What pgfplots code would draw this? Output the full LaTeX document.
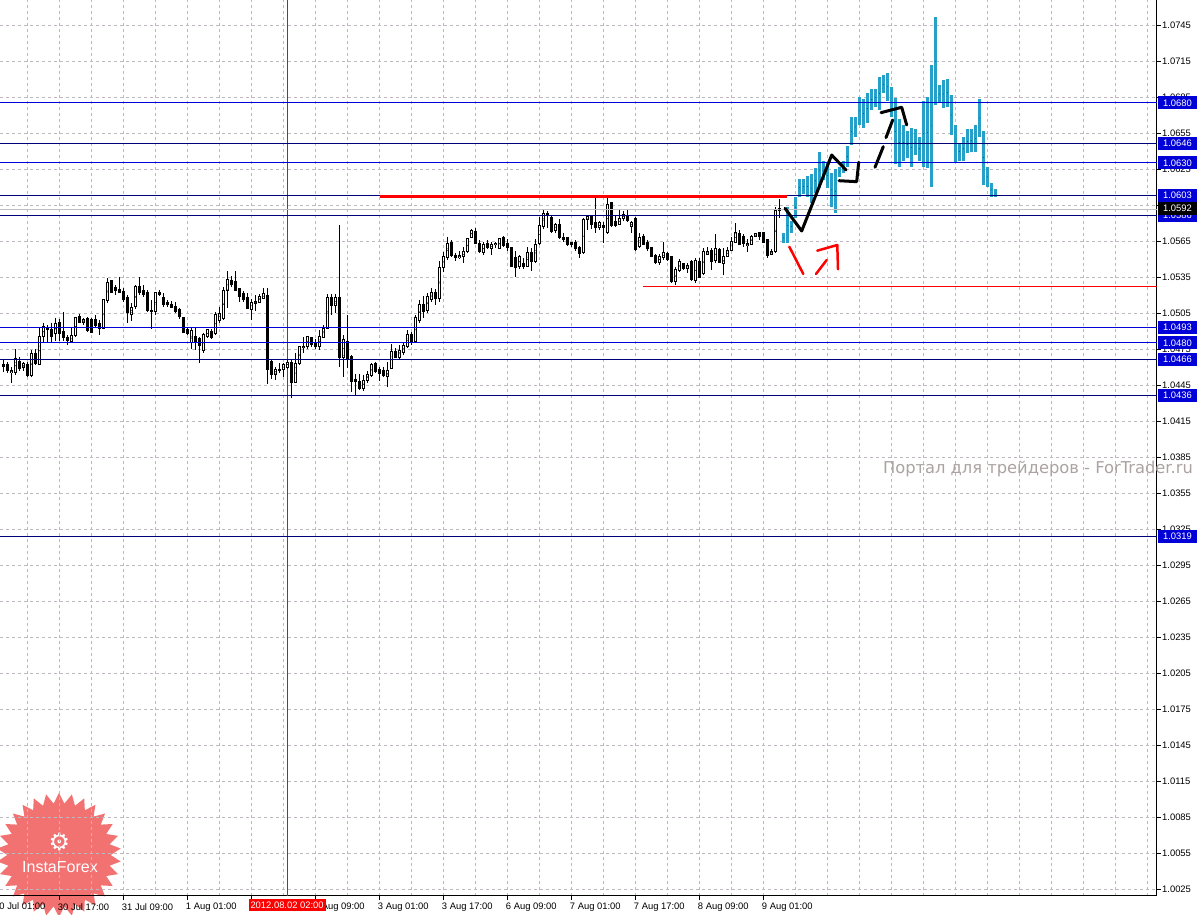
\documentclass[border=0pt]{standalone}
\usepackage{fontspec}
\setmainfont{Liberation Sans}
\newfontfamily\dejavu{DejaVu Sans}
\usepackage{pgfplots}
\pgfplotsset{compat=1.18}
\usepackage{pgfplotstable}
\usetikzlibrary{shapes.geometric}

\definecolor{lvblue}{RGB}{0,0,215}
\definecolor{lvnavy}{RGB}{0,0,120}
\definecolor{barblue}{RGB}{38,160,200}
\definecolor{gridc}{RGB}{192,184,192}
\definecolor{wmgray}{RGB}{172,162,162}
\definecolor{logored}{RGB}{240,90,90}

\pgfplotsset{hidemarks/.style={only marks, mark=*, mark options={scale=0.01, draw=none, fill=none}, forget plot}}

\pgfplotstableread{
x o h l c
0 1.0462 1.0466 1.0456 1.0460
1 1.0462 1.0464 1.0455 1.0457
2 1.0455 1.0460 1.0447 1.0457
3 1.0455 1.0475 1.0453 1.0467
4 1.0465 1.0468 1.0457 1.0459
5 1.0460 1.0464 1.0457 1.0463
6 1.0462 1.0464 1.0452 1.0453
7 1.0453 1.0474 1.0452 1.0471
8 1.0471 1.0475 1.0462 1.0463
9 1.0462 1.0493 1.0462 1.0485
10 1.0485 1.0497 1.0480 1.0494
11 1.0493 1.0495 1.0481 1.0491
12 1.0491 1.0497 1.0480 1.0485
13 1.0488 1.0501 1.0482 1.0496
14 1.0497 1.0500 1.0482 1.0488
15 1.0490 1.0506 1.0482 1.0485
16 1.0485 1.0487 1.0478 1.0482
17 1.0481 1.0493 1.0480 1.0486
18 1.0486 1.0502 1.0485 1.0501
19 1.0502 1.0504 1.0497 1.0497
20 1.0497 1.0501 1.0495 1.0500
21 1.0500 1.0502 1.0489 1.0490
22 1.0500 1.0501 1.0488 1.0489
23 1.0500 1.0503 1.0493 1.0495
24 1.0496 1.0499 1.0487 1.0492
25 1.0492 1.0517 1.0492 1.0516
26 1.0515 1.0534 1.0513 1.0530
27 1.0532 1.0532 1.0522 1.0522
28 1.0526 1.0528 1.0520 1.0524
29 1.0525 1.0535 1.0522 1.0522
30 1.0523 1.0526 1.0514 1.0516
31 1.0518 1.0520 1.0497 1.0505
32 1.0504 1.0513 1.0498 1.0510
33 1.0510 1.0528 1.0508 1.0527
34 1.0527 1.0535 1.0520 1.0522
35 1.0524 1.0528 1.0518 1.0520
36 1.0522 1.0524 1.0506 1.0507
37 1.0507 1.0516 1.0492 1.0506
38 1.0506 1.0522 1.0503 1.0522
39 1.0522 1.0524 1.0519 1.0520
40 1.0518 1.0522 1.0510 1.0512
41 1.0514 1.0516 1.0510 1.0512
42 1.0512 1.0515 1.0509 1.0510
43 1.0510 1.0514 1.0505 1.0506
44 1.0508 1.0509 1.0500 1.0502
45 1.0501 1.0502 1.0488 1.0489
46 1.0491 1.0493 1.0487 1.0488
47 1.0480 1.0493 1.0475 1.0490
48 1.0485 1.0493 1.0474 1.0480
49 1.0484 1.0485 1.0463 1.0478
50 1.0474 1.0488 1.0472 1.0487
51 1.0485 1.0492 1.0484 1.0491
52 1.0490 1.0492 1.0483 1.0485
53 1.0488 1.0506 1.0487 1.0504
54 1.0499 1.0510 1.0497 1.0505
55 1.0500 1.0527 1.0499 1.0524
56 1.0524 1.0540 1.0509 1.0533
57 1.0532 1.0536 1.0527 1.0529
58 1.0531 1.0540 1.0523 1.0524
59 1.0525 1.0526 1.0514 1.0519
60 1.0521 1.0523 1.0514 1.0516
61 1.0518 1.0522 1.0508 1.0509
62 1.0508 1.0517 1.0499 1.0514
63 1.0513 1.0520 1.0507 1.0515
64 1.0514 1.0521 1.0513 1.0519
65 1.0517 1.0526 1.0517 1.0521
66 1.0520 1.0526 1.0446 1.0458
67 1.0465 1.0467 1.0450 1.0454
68 1.0454 1.0460 1.0449 1.0458
69 1.0458 1.0463 1.0455 1.0457
70 1.0458 1.0463 1.0452 1.0462
71 1.0460 1.0466 1.0458 1.0464
72 1.0464 1.0466 1.0434 1.0447
73 1.0447 1.0472 1.0447 1.0463
74 1.0463 1.0477 1.0462 1.0477
75 1.0476 1.0485 1.0472 1.0477
76 1.0477 1.0486 1.0475 1.0485
77 1.0485 1.0485 1.0477 1.0479
78 1.0480 1.0483 1.0475 1.0477
79 1.0477 1.0491 1.0474 1.0485
80 1.0485 1.0495 1.0484 1.0492
81 1.0492 1.0521 1.0492 1.0518
82 1.0518 1.0521 1.0503 1.0511
83 1.0511 1.0521 1.0505 1.0518
84 1.0518 1.0578 1.0460 1.0468
85 1.0468 1.0487 1.0452 1.0483
86 1.0481 1.0503 1.0459 1.0467
87 1.0469 1.0470 1.0439 1.0448
88 1.0450 1.0454 1.0437 1.0448
89 1.0448 1.0454 1.0441 1.0442
90 1.0442 1.0453 1.0440 1.0449
91 1.0449 1.0457 1.0447 1.0454
92 1.0453 1.0463 1.0452 1.0462
93 1.0463 1.0464 1.0455 1.0456
94 1.0458 1.0460 1.0448 1.0455
95 1.0457 1.0460 1.0452 1.0453
96 1.0452 1.0464 1.0443 1.0457
97 1.0459 1.0479 1.0458 1.0473
98 1.0473 1.0476 1.0468 1.0468
99 1.0468 1.0478 1.0466 1.0474
100 1.0472 1.0481 1.0470 1.0478
101 1.0477 1.0491 1.0476 1.0487
102 1.0487 1.0489 1.0478 1.0481
103 1.0481 1.0503 1.0480 1.0501
104 1.0499 1.0516 1.0497 1.0512
105 1.0512 1.0519 1.0501 1.0506
106 1.0507 1.0522 1.0505 1.0519
107 1.0516 1.0526 1.0514 1.0522
108 1.0522 1.0525 1.0512 1.0517
109 1.0517 1.0548 1.0514 1.0543
110 1.0543 1.0556 1.0539 1.0552
111 1.0551 1.0568 1.0549 1.0563
112 1.0564 1.0566 1.0552 1.0553
113 1.0553 1.0555 1.0548 1.0551
114 1.0551 1.0557 1.0550 1.0553
115 1.0552 1.0560 1.0547 1.0556
116 1.0556 1.0567 1.0555 1.0567
117 1.0568 1.0575 1.0568 1.0574
118 1.0573 1.0576 1.0563 1.0563
119 1.0563 1.0566 1.0555 1.0556
120 1.0555 1.0564 1.0553 1.0562
121 1.0563 1.0566 1.0558 1.0560
122 1.0559 1.0564 1.0553 1.0562
123 1.0562 1.0564 1.0559 1.0563
124 1.0559 1.0567 1.0558 1.0567
125 1.0568 1.0569 1.0560 1.0561
126 1.0563 1.0567 1.0557 1.0560
127 1.0560 1.0560 1.0543 1.0544
128 1.0551 1.0557 1.0535 1.0543
129 1.0544 1.0553 1.0542 1.0552
130 1.0546 1.0551 1.0542 1.0544
131 1.0544 1.0560 1.0543 1.0555
132 1.0555 1.0559 1.0540 1.0548
133 1.0548 1.0567 1.0547 1.0562
134 1.0563 1.0585 1.0562 1.0578
135 1.0577 1.0592 1.0575 1.0588
136 1.0588 1.0590 1.0576 1.0586
137 1.0585 1.0587 1.0572 1.0573
138 1.0574 1.0580 1.0572 1.0579
139 1.0579 1.0583 1.0567 1.0568
140 1.0568 1.0572 1.0564 1.0566
141 1.0568 1.0568 1.0561 1.0562
142 1.0564 1.0564 1.0560 1.0562
143 1.0564 1.0566 1.0557 1.0559
144 1.0560 1.0561 1.0551 1.0555
145 1.0555 1.0584 1.0554 1.0583
146 1.0583 1.0586 1.0574 1.0585
147 1.0585 1.0587 1.0575 1.0579
148 1.0580 1.0601 1.0572 1.0576
149 1.0576 1.0582 1.0574 1.0580
150 1.0578 1.0581 1.0563 1.0576
151 1.0572 1.0602 1.0571 1.0595
152 1.0597 1.0597 1.0577 1.0578
153 1.0581 1.0587 1.0577 1.0578
154 1.0579 1.0591 1.0578 1.0584
155 1.0584 1.0590 1.0582 1.0587
156 1.0586 1.0591 1.0581 1.0582
157 1.0577 1.0582 1.0572 1.0580
158 1.0584 1.0585 1.0557 1.0558
159 1.0560 1.0572 1.0559 1.0568
160 1.0569 1.0571 1.0562 1.0562
161 1.0564 1.0566 1.0557 1.0559
162 1.0560 1.0560 1.0552 1.0552
163 1.0553 1.0554 1.0546 1.0547
164 1.0547 1.0554 1.0545 1.0552
165 1.0551 1.0564 1.0549 1.0555
166 1.0555 1.0556 1.0548 1.0550
167 1.0552 1.0552 1.0530 1.0531
168 1.0531 1.0543 1.0528 1.0541
169 1.0540 1.0550 1.0539 1.0548
170 1.0546 1.0547 1.0541 1.0542
171 1.0542 1.0547 1.0538 1.0545
172 1.0548 1.0549 1.0532 1.0533
173 1.0532 1.0551 1.0530 1.0549
174 1.0548 1.0551 1.0534 1.0535
175 1.0538 1.0559 1.0537 1.0556
176 1.0554 1.0560 1.0553 1.0556
177 1.0557 1.0559 1.0541 1.0548
178 1.0549 1.0571 1.0547 1.0559
179 1.0558 1.0559 1.0547 1.0547
180 1.0546 1.0559 1.0537 1.0552
181 1.0552 1.0560 1.0552 1.0557
182 1.0557 1.0568 1.0557 1.0565
183 1.0564 1.0580 1.0563 1.0572
184 1.0571 1.0574 1.0562 1.0562
185 1.0569 1.0571 1.0560 1.0563
186 1.0561 1.0567 1.0556 1.0563
187 1.0562 1.0570 1.0562 1.0569
188 1.0569 1.0572 1.0568 1.0571
189 1.0572 1.0572 1.0566 1.0569
190 1.0572 1.0572 1.0563 1.0564
191 1.0566 1.0567 1.0551 1.0553
192 1.0554 1.0558 1.0553 1.0556
193 1.0556 1.0593 1.0555 1.0590
194 1.0592 1.0600 1.0584 1.0590
}\candles

\pgfplotstableread{
x h l
195 1.0572 1.0563
196 1.0593 1.0563
197 1.0582 1.0572
198 1.0602 1.0584
199 1.0617 1.0602
200 1.0617 1.0604
201 1.0619 1.0602
202 1.0621 1.0597
203 1.0626 1.0605
204 1.0639 1.0609
205 1.0632 1.0616
206 1.0630 1.0609
207 1.0622 1.0593
208 1.0625 1.0588
209 1.0627 1.0618
210 1.0632 1.0622
211 1.0644 1.0627
212 1.0668 1.0645
213 1.0668 1.0652
214 1.0685 1.0662
215 1.0683 1.0659
216 1.0688 1.0663
217 1.0692 1.0674
218 1.0692 1.0677
219 1.0702 1.0674
220 1.0703 1.0688
221 1.0705 1.0682
222 1.0693 1.0668
223 1.0684 1.0629
224 1.0667 1.0627
225 1.0662 1.0632
226 1.0657 1.0634
227 1.0659 1.0627
228 1.0658 1.0637
229 1.0652 1.0632
230 1.0682 1.0627
231 1.0685 1.0626
232 1.0712 1.0610
233 1.0752 1.0678
234 1.0695 1.0680
235 1.0699 1.0676
236 1.0700 1.0677
237 1.0687 1.0653
238 1.0662 1.0631
239 1.0647 1.0632
240 1.0652 1.0632
241 1.0658 1.0638
242 1.0658 1.0639
243 1.0662 1.0639
244 1.0683 1.0652
245 1.0657 1.0612
246 1.0627 1.0610
247 1.0613 1.0602
248 1.0608 1.0602
}\bars

\begin{document}
\begin{tikzpicture}[font=\fontsize{9.2}{11}\selectfont]
\fill[white] (0,0) rectangle (1199pt,915pt);
% logo watermark
\node[star, star points=30, star point ratio=1.2, minimum size=124pt, inner sep=0pt, fill=logored, fill opacity=0.85, draw=none] at (59pt,60pt) {};
\node[text=white, font=\dejavu\fontsize{24}{26}\selectfont] at (59.5pt,73pt) {⚙};
\node[text=white, anchor=base, inner sep=0pt, font=\fontsize{16}{18}\selectfont] at (60pt,42pt) {InstaForex};

\begin{axis}[
  name=ax, scale only axis, width=1157pt, height=896pt,
  at={(0pt,19pt)}, anchor=south west,
  xmin=-0.825, xmax=288.425, ymin=1.001913, ymax=1.07658,
  axis x line=bottom, axis y line=right,
  axis line style={-, black, line width=1pt},
  tick align=outside, major tick length=4pt, minor tick length=0pt,
  tick style={black, line width=0.8pt},
  tick label style={font=\fontsize{9.4}{11}\selectfont},
  xtick={14,30,46,62,78,94,110,126,142,158,174,190},
  xticklabels={30 Jul 17:00,31 Jul 09:00,1 Aug 01:00,,2 Aug 09:00,3 Aug 01:00,3 Aug 17:00,6 Aug 09:00,7 Aug 01:00,7 Aug 17:00,8 Aug 09:00,9 Aug 01:00},
  xticklabel style={anchor=north west, inner sep=0pt, xshift=-1.5pt, yshift=-3pt},
  minor xtick={6,22,...,278,206,222,238,254,270,286},
  ytick={1.0025,1.0055,1.0085,1.0115,1.0145,1.0175,1.0205,1.0235,1.0265,1.0295,1.0325,1.0355,1.0385,1.0415,1.0445,1.0475,1.0505,1.0535,1.0565,1.0595,1.0625,1.0655,1.0685,1.0715,1.0745},
  yticklabels={1.0025,1.0055,1.0085,1.0115,1.0145,1.0175,1.0205,1.0235,1.0265,1.0295,1.0325,1.0355,1.0385,1.0415,1.0445,1.0475,1.0505,1.0535,1.0565,1.0595,1.0625,1.0655,1.0685,1.0715,1.0745},
  yticklabel style={anchor=west, inner sep=0pt, xshift=1pt},
  grid=both,
  major grid style={gridc, dash pattern=on 3pt off 3pt, line width=0.8pt},
  minor grid style={gridc, dash pattern=on 3pt off 3pt, line width=0.8pt},
]
% crosshair
\addplot[red, line width=0.9pt] coordinates {(70.95,1.0019) (70.95,1.0766)};
% candle wicks
\addplot[hidemarks, error bars/.cd, y dir=both, y explicit, error mark=none, error bar style={line width=1pt, black}]
  table[x=x, y expr={(\thisrow{h}+\thisrow{l})/2}, y error expr={(\thisrow{h}-\thisrow{l})/2}] {\candles};
% candle bodies
\addplot[hidemarks, error bars/.cd, y dir=both, y explicit, error mark=none, error bar style={line width=3pt, black}]
  table[x=x, y expr={(\thisrow{o}+\thisrow{c})/2}, y error expr={abs(\thisrow{o}-\thisrow{c})/2+0.00004}] {\candles};
\addplot[hidemarks, error bars/.cd, y dir=both, y explicit, error mark=none, error bar style={line width=1pt, white}]
  table[x=x, y expr={(\thisrow{o}+\thisrow{c})/2}, y error expr={(\thisrow{c}>\thisrow{o})*max(abs(\thisrow{c}-\thisrow{o})/2-0.00004,0)}] {\candles};
% forecast bars
\addplot[hidemarks, error bars/.cd, y dir=both, y explicit, error mark=none, error bar style={line width=3pt, barblue}]
  table[x=x, y expr={(\thisrow{h}+\thisrow{l})/2}, y error expr={(\thisrow{h}-\thisrow{l})/2}] {\bars};
% bid line
\addplot[black!25, line width=1pt] coordinates {(-0.825,1.0591) (288.425,1.0591)};
% levels
\addplot[lvblue, line width=1.1pt] coordinates {(-0.825,1.0680) (288.425,1.0680)};
\addplot[lvnavy, line width=1.1pt] coordinates {(-0.825,1.0646) (288.425,1.0646)};
\addplot[lvblue, line width=1.1pt] coordinates {(-0.825,1.0630) (288.425,1.0630)};
\addplot[lvnavy, line width=1.1pt] coordinates {(-0.825,1.0603) (288.425,1.0603)};
\addplot[lvnavy, line width=1.1pt] coordinates {(-0.825,1.0586) (288.425,1.0586)};
\addplot[lvblue, line width=1.1pt] coordinates {(-0.825,1.0493) (288.425,1.0493)};
\addplot[lvblue, line width=1.1pt] coordinates {(-0.825,1.0480) (288.425,1.0480)};
\addplot[lvnavy, line width=1.1pt] coordinates {(-0.825,1.0466) (288.425,1.0466)};
\addplot[lvnavy, line width=1.1pt] coordinates {(-0.825,1.0436) (288.425,1.0436)};
\addplot[lvnavy, line width=1.1pt] coordinates {(-0.825,1.0319) (288.425,1.0319)};
% red lines
\addplot[red, line width=2.5pt] coordinates {(94.2,1.0602) (195.85,1.0602)};
\addplot[red, line width=1pt] coordinates {(160,1.0527) (288.425,1.0527)};
% hand drawn black path
\addplot[black, line width=3pt, line cap=round, line join=round] coordinates {(195.43,1.05922) (199.6,1.05733) (207.1,1.06366) (210.68,1.06241)};
\addplot[black, line width=3pt, line cap=round, line join=round] coordinates {(208.93,1.06152) (213.35,1.06144) (213.85,1.06306)};
\addplot[black, line width=3pt, line cap=round] coordinates {(217.93,1.06264) (220.0,1.06436)};
\addplot[black, line width=3pt, line cap=round] coordinates {(220.68,1.06511) (222.35,1.06658)};
\addplot[black, line width=3pt, line cap=round, line join=round] coordinates {(219.43,1.06719) (224.6,1.06764) (225.85,1.06616)};
% red strokes
\addplot[red, line width=2.5pt, line cap=round] coordinates {(196.5,1.05602) (200.0,1.05375)};
\addplot[red, line width=2.5pt, line cap=round] coordinates {(203.18,1.05375) (205.85,1.05491)};
\addplot[red, line width=2.5pt, line cap=round, line join=round] coordinates {(203.5,1.05569) (208.5,1.05616) (208.68,1.05414)};
% anchors for the price boxes
\coordinate (L680) at (axis cs:288.425,1.0680);
\coordinate (L646) at (axis cs:288.425,1.0646);
\coordinate (L630) at (axis cs:288.425,1.0630);
\coordinate (L603) at (axis cs:288.425,1.0603);
\coordinate (L592) at (axis cs:288.425,1.0592);
\coordinate (L586) at (axis cs:288.425,1.0586);
\coordinate (L493) at (axis cs:288.425,1.0493);
\coordinate (L480) at (axis cs:288.425,1.0480);
\coordinate (L466) at (axis cs:288.425,1.0466);
\coordinate (L436) at (axis cs:288.425,1.0436);
\coordinate (L319) at (axis cs:288.425,1.0319);
\coordinate (X71) at (axis cs:70.95,1.0100);
\end{axis}

\tikzset{lvbox/.style={anchor=west, fill=lvblue, text=white, inner xsep=2.5pt, inner ysep=0pt, minimum height=13pt, minimum width=38.5pt, font=\fontsize{9.4}{11}\selectfont}}
\foreach \n/\t in {L680/1.0680,L646/1.0646,L630/1.0630,L603/1.0603,L586/1.0586,L493/1.0493,L480/1.0480,L466/1.0466,L436/1.0436,L319/1.0319}
  \node[lvbox] at ([xshift=1pt]\n) {\t};
\node[lvbox, fill=black] at ([xshift=1pt]L592) {1.0592};
% crosshair time label
\node[anchor=north, fill=red, text=white, inner xsep=2pt, inner ysep=2.5pt, font=\fontsize{9.4}{11}\selectfont] at (X71 |- 0,16pt) {2012.08.02 02:00};
% partially visible first label
\node[anchor=north west, inner sep=0pt, font=\fontsize{9.4}{11}\selectfont] at (-6pt,12.3pt) {30 Jul 01:00};
% site watermark
\node[anchor=base east, inner sep=0pt, text=wmgray, font=\dejavu\fontsize{16.3}{19}\selectfont] at (1193pt,441pt) {Портал для трейдеров - ForTrader.ru};

\pgfresetboundingbox
\useasboundingbox (0,0) rectangle (1199pt,915pt);
\end{tikzpicture}
\end{document}
